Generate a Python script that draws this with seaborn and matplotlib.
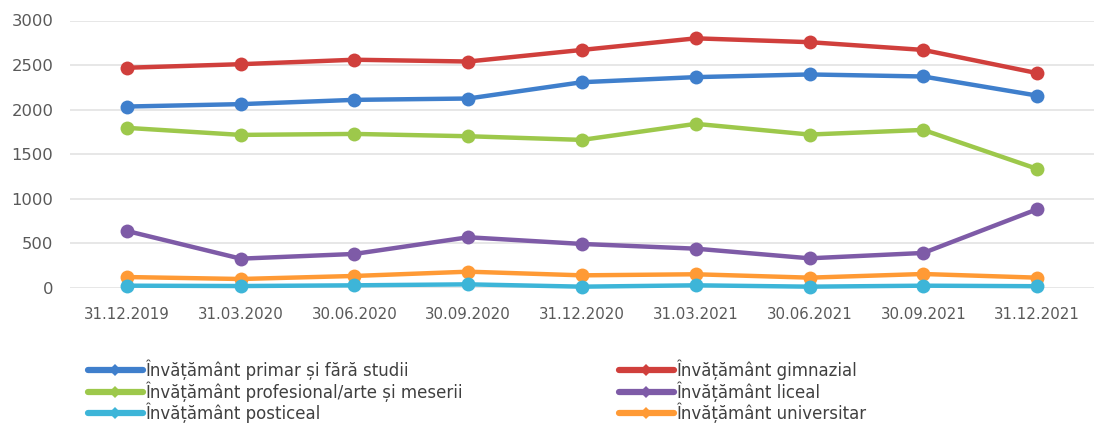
import matplotlib
matplotlib.use("Agg")
import matplotlib.pyplot as plt
import seaborn as sns
import pandas as pd
from matplotlib.lines import Line2D

dates = ["31.12.2019", "31.03.2020", "30.06.2020", "30.09.2020", "31.12.2020",
         "31.03.2021", "30.06.2021", "30.09.2021", "31.12.2021"]

primar = [2035, 2062, 2110, 2125, 2308, 2365, 2395, 2372, 2158]
gimnazial = [2470, 2510, 2560, 2540, 2670, 2800, 2757, 2670, 2410]
profesional = [1796, 1717, 1728, 1702, 1661, 1841, 1721, 1773, 1336]
liceal = [640, 329, 382, 569, 494, 441, 333, 393, 883]
posticeal = [26, 22, 30, 41, 15, 30, 15, 26, 20]
universitar = [123, 101, 135, 183, 142, 154, 116, 157, 116]

names = ["Învățământ primar și fără studii", "Învățământ gimnazial",
         "Învățământ profesional/arte și meserii", "Învățământ liceal",
         "Învățământ posticeal", "Învățământ universitar"]
series = [primar, gimnazial, profesional, liceal, posticeal, universitar]
colors = ["#3F7FCC", "#D03F3C", "#9DC84B", "#7E5BA7", "#3DB5D8", "#FF9A35"]

rows = []
for n, vals in zip(names, series):
    for i, (d, v) in enumerate(zip(dates, vals)):
        rows.append({"idx": i, "date": d, "value": v, "serie": n})
df = pd.DataFrame(rows)

sns.set_theme(style="white")
plt.rcParams["font.family"] = ["DejaVu Sans"]

fig = plt.figure(figsize=(10.94, 4.24), dpi=100)
ax = fig.add_axes([70 / 1094, 1 - 288 / 424, (1094 - 70) / 1094, (288 - 20.5) / 424])

draw_order = ["Învățământ primar și fără studii", "Învățământ gimnazial",
              "Învățământ profesional/arte și meserii", "Învățământ liceal",
              "Învățământ universitar", "Învățământ posticeal"]
pal = dict(zip(names, colors))
for n in draw_order:
    sub = df[df["serie"] == n]
    sns.lineplot(data=sub, x="idx", y="value", ax=ax, color=pal[n],
                 linewidth=3.2, marker="o", markersize=10, markeredgewidth=0,
                 legend=False, clip_on=False)

ax.set_xlim(-0.5, len(dates) - 0.5)
ax.set_ylim(0, 3000)
ax.set_yticks([0, 500, 1000, 1500, 2000, 2500, 3000])
ax.set_xticks(range(len(dates)))
ax.set_xticklabels(dates)
ax.set_xlabel("")
ax.set_ylabel("")
ax.grid(axis="y", color="#E3E3E3", linewidth=1.2)
ax.grid(axis="x", visible=False)
for s in ax.spines.values():
    s.set_visible(False)
ax.tick_params(axis="y", length=0, pad=12, labelsize=11.8, labelcolor="#595959")
ax.tick_params(axis="x", length=0, pad=14, labelsize=10.8, labelcolor="#595959")

leg_order = [0, 2, 4, 1, 3, 5]
handles = [Line2D([0], [0], color=colors[i], linewidth=4.5, marker="D",
                  markersize=6, markeredgewidth=0) for i in leg_order]
labels = [names[i] for i in leg_order]
leg = fig.legend(handles, labels, ncol=2, loc="upper left",
                 bbox_to_anchor=(76 / 1094, 1 - 348 / 424),
                 frameon=False, handlelength=3.3, handletextpad=0.12,
                 columnspacing=9.4, labelspacing=0.06, borderpad=0.2,
                 prop={"family": ["DejaVu Sans"], "size": 12})
for t in leg.get_texts():
    t.set_color("#404040")

fig.savefig("out.png", dpi=100)
